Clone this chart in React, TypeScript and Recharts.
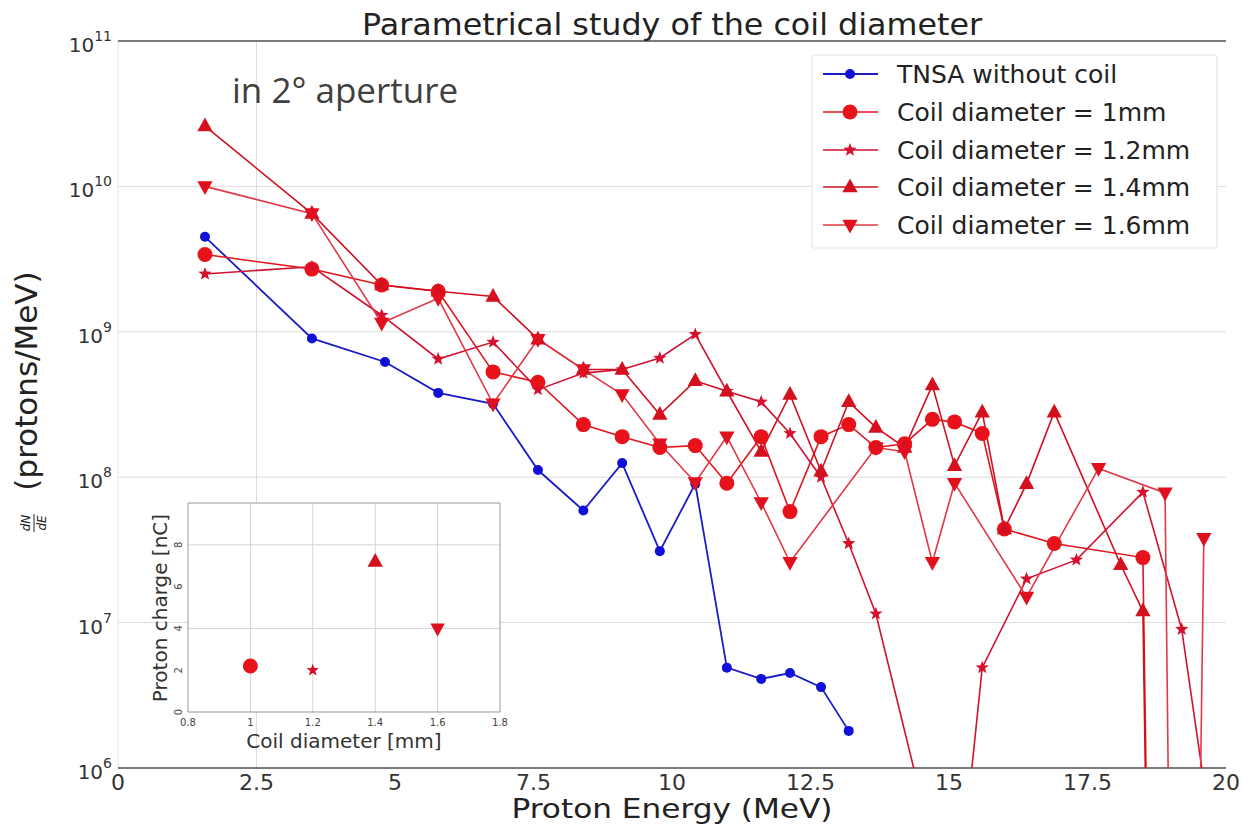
import React from "react";
import {
  LineChart,
  Line,
  XAxis,
  YAxis,
  CartesianGrid,
  ReferenceLine,
  ScatterChart,
  Scatter,
} from "recharts";

// Proton spectra: energy (MeV) vs dN/dE (protons/MeV), 2° aperture
const tnsaEnergy = [1.57, 3.5, 4.82, 5.78, 6.77, 7.58, 8.4, 9.1, 9.78, 10.42, 10.99, 11.61, 12.13, 12.69, 13.19];
const tnsaCounts = [4.5e9, 9.0e8, 6.2e8, 3.8e8, 3.2e8, 1.12e8, 5.9e7, 1.25e8, 3.1e7, 9.0e7, 4.9e6, 4.1e6, 4.5e6, 3.6e6, 1.8e6];

const coil10Energy = [1.57, 3.5, 4.76, 5.78, 6.77, 7.58, 8.4, 9.1, 9.78, 10.42, 10.99, 11.61, 12.13, 12.69, 13.19, 13.68, 14.2, 14.7, 15.1, 15.6, 16.0, 16.9, 18.5, 18.9];
const coil10Counts = [3.4e9, 2.7e9, 2.1e9, 1.9e9, 5.3e8, 4.5e8, 2.3e8, 1.9e8, 1.6e8, 1.65e8, 9.1e7, 1.9e8, 5.8e7, 1.9e8, 2.3e8, 1.6e8, 1.7e8, 2.5e8, 2.4e8, 2.0e8, 4.4e7, 3.5e7, 2.8e7, 1e-3];

const coil12Energy = [1.57, 3.5, 4.76, 5.78, 6.77, 7.58, 8.4, 9.1, 9.78, 10.42, 10.99, 11.61, 12.13, 12.69, 13.19, 13.68, 14.7, 15.1, 15.6, 16.4, 17.3, 18.5, 19.2, 19.6];
const coil12Counts = [2.5e9, 2.8e9, 1.3e9, 6.5e8, 8.5e8, 4.0e8, 5.2e8, 5.5e8, 6.6e8, 9.6e8, 3.9e8, 3.3e8, 2.0e8, 1.0e8, 3.5e7, 1.15e7, 3e5, 7e4, 4.9e6, 2.0e7, 2.7e7, 7.9e7, 9e6, 8e5];

const coil14Energy = [1.57, 3.5, 4.76, 5.78, 6.77, 7.58, 8.4, 9.1, 9.78, 10.42, 10.99, 11.61, 12.13, 12.69, 13.19, 13.68, 14.2, 14.7, 15.1, 15.6, 16.0, 16.4, 16.9, 18.1, 18.5, 18.9];
const coil14Counts = [2.6e10, 6.5e9, 2.1e9, 1.9e9, 1.75e9, 8.9e8, 5.5e8, 5.5e8, 2.7e8, 4.6e8, 3.9e8, 1.5e8, 3.7e8, 1.1e8, 3.3e8, 2.2e8, 1.6e8, 4.3e8, 1.2e8, 2.8e8, 4.4e7, 9e7, 2.8e8, 2.5e7, 1.2e7, 1e-3];

const coil16Energy = [1.57, 3.5, 4.76, 5.78, 6.77, 7.58, 8.4, 9.1, 9.78, 10.42, 10.99, 11.61, 12.13, 13.68, 14.2, 14.7, 15.1, 16.4, 17.7, 18.9, 19.22, 19.6];
const coil16Counts = [1.0e10, 6.5e9, 1.15e9, 1.7e9, 3.2e8, 8.9e8, 5.5e8, 3.7e8, 1.7e8, 9.2e7, 1.9e8, 6.7e7, 2.6e7, 1.6e8, 1.5e8, 2.6e7, 9.1e7, 1.5e7, 1.15e8, 7.8e7, 1e-3, 3.8e7];

const energyTicks = [0, 2.5, 5, 7.5, 10, 12.5, 15, 17.5, 20];
const countTicks = [1e6, 1e7, 1e8, 1e9, 1e10, 1e11];

// inset: total proton charge per coil diameter
const insetDiameter = [1, 1.2, 1.4, 1.6];
const insetCharge = [2.2, 2.0, 7.2, 4.0];
const insetDiameterTicks = [0.8, 1, 1.2, 1.4, 1.6, 1.8];
const insetChargeTicks = [0, 2, 4, 6, 8];

type Shape = "circle" | "star" | "up" | "down";

const series: {
  name: string;
  energy: number[];
  counts: number[];
  stroke: string;
  fill: string;
  shape: Shape;
  size: number;
  width: number;
}[] = [
  { name: "TNSA without coil", energy: tnsaEnergy, counts: tnsaCounts, stroke: "#1c1cc4", fill: "#1010d8", shape: "circle", size: 5, width: 1.8 },
  { name: "Coil diameter = 1mm", energy: coil10Energy, counts: coil10Counts, stroke: "#e0141c", fill: "#e8121a", shape: "circle", size: 7.5, width: 1.6 },
  { name: "Coil diameter = 1.2mm", energy: coil12Energy, counts: coil12Counts, stroke: "#d01232", fill: "#d6102c", shape: "star", size: 7, width: 1.6 },
  { name: "Coil diameter = 1.4mm", energy: coil14Energy, counts: coil14Counts, stroke: "#cf1020", fill: "#d4101e", shape: "up", size: 8.5, width: 1.6 },
  { name: "Coil diameter = 1.6mm", energy: coil16Energy, counts: coil16Counts, stroke: "#e03844", fill: "#e0101e", shape: "down", size: 8.5, width: 1.6 },
];

const insetShapes: Shape[] = ["circle", "star", "up", "down"];
const insetSizes = [7.5, 6.5, 8.5, 8];

const FONT = "DejaVu Sans, sans-serif";

function Marker({ cx, cy, shape, size, fill }: { cx: number; cy: number; shape: Shape; size: number; fill: string }) {
  const r = size;
  if (shape === "circle") return <circle cx={cx} cy={cy} r={r} fill={fill} />;
  if (shape === "up")
    return <polygon points={`${cx},${cy - r} ${cx + r * 0.9},${cy + r * 0.62} ${cx - r * 0.9},${cy + r * 0.62}`} fill={fill} />;
  if (shape === "down")
    return <polygon points={`${cx},${cy + r} ${cx + r * 0.9},${cy - r * 0.62} ${cx - r * 0.9},${cy - r * 0.62}`} fill={fill} />;
  const pts: string[] = [];
  for (let i = 0; i < 10; i++) {
    const a = -Math.PI / 2 + (i * Math.PI) / 5;
    const rr = i % 2 === 0 ? r : r * 0.42;
    pts.push(`${cx + rr * Math.cos(a)},${cy + rr * Math.sin(a)}`);
  }
  return <polygon points={pts.join(" ")} fill={fill} />;
}

const dotRenderer = (name: string, shape: Shape, size: number, fill: string) => (props: any) => {
  const { cx, cy, index, payload } = props;
  const k = `${name}-${index}`;
  if (cx == null || cy == null || payload.v < 1e6) return <g key={k} />;
  return <Marker key={k} cx={cx} cy={cy} shape={shape} size={size} fill={fill} />;
};

const PowerTick = (props: any) => {
  const { x, y, payload } = props;
  const exp = Math.round(Math.log10(payload.value));
  return (
    <text x={x - 6} y={y + 11} textAnchor="end" fill="#333" fontFamily={FONT}>
      <tspan fontSize={20}>10</tspan>
      <tspan fontSize={14} dy={-11}>
        {exp}
      </tspan>
    </text>
  );
};

const EnergyTick = (props: any) => {
  const { x, y, payload } = props;
  return (
    <text x={x} y={y + 22} textAnchor="middle" fontSize={22} fill="#333" fontFamily={FONT}>
      {payload.value}
    </text>
  );
};

const InsetXTick = (props: any) => {
  const { x, y, payload } = props;
  return (
    <text x={x} y={y + 14} textAnchor="middle" fontSize={10} fill="#444" fontFamily={FONT}>
      {payload.value}
    </text>
  );
};

const InsetYTick = (props: any) => {
  const { x, y, payload } = props;
  return (
    <text x={x - 6} y={y} textAnchor="middle" fontSize={10} fill="#444" fontFamily={FONT} transform={`rotate(-90, ${x - 6}, ${y})`}>
      {payload.value}
    </text>
  );
};

function Labels() {
  return (
    <svg width={1243} height={831} style={{ position: "absolute", left: 0, top: 0, pointerEvents: "none" }}>
      <text x={672} y={35} textAnchor="middle" fontSize={30} fill="#222" fontFamily={FONT} textLength={620} lengthAdjust="spacingAndGlyphs">
        Parametrical study of the coil diameter
      </text>
      <text x={232} y={103} fontSize={35} fill="#404040" fontFamily="Open Sans, sans-serif">
        in 2° aperture
      </text>
      <text x={672} y={818} textAnchor="middle" fontSize={27} fill="#222" fontFamily={FONT} textLength={321} lengthAdjust="spacingAndGlyphs">
        Proton Energy (MeV)
      </text>
      <text x={37} y={381} textAnchor="middle" fontSize={31} fill="#222" fontFamily={FONT} transform="rotate(-90, 37, 381)">
        (protons/MeV)
      </text>
      <g transform="translate(34, 523) rotate(-90)" fontFamily={FONT} fill="#222" fontStyle="italic">
        <text x={0} y={-4} textAnchor="middle" fontSize={12}>
          dN
        </text>
        <line x1={-9} x2={9} y1={0} y2={0} stroke="#222" strokeWidth={1} />
        <text x={0} y={12} textAnchor="middle" fontSize={12}>
          dE
        </text>
      </g>
      <text x={344} y={748} textAnchor="middle" fontSize={20} fill="#333" fontFamily={FONT}>
        Coil diameter [mm]
      </text>
      <text x={167} y={608} textAnchor="middle" fontSize={20} fill="#333" fontFamily={FONT} transform="rotate(-90, 167, 608)">
        Proton charge [nC]
      </text>
    </svg>
  );
}

function LegendBox() {
  const rowY = [20, 58, 96, 133, 171];
  return (
    <svg width={408} height={196} style={{ position: "absolute", left: 811, top: 54 }}>
      <rect x={1} y={1} width={405} height={193} fill="#fff" stroke="#ececec" strokeWidth={1.5} rx={3} />
      {series.map((s, i) => (
        <g key={s.name}>
          <line x1={12} x2={67} y1={rowY[i]} y2={rowY[i]} stroke={s.stroke} strokeWidth={s.width} />
          <Marker cx={39} cy={rowY[i]} shape={s.shape} size={s.size} fill={s.fill} />
          <text x={86} y={rowY[i] + 9} fontSize={25} fill="#222" fontFamily={FONT}>
            {s.name}
          </text>
        </g>
      ))}
    </svg>
  );
}

export default function App() {
  return (
    <div style={{ position: "absolute", left: 0, top: 0, width: 1243, height: 831, background: "#fff" }}>
      <LineChart width={1243} height={831} margin={{ top: 41, right: 17, bottom: 0, left: 0 }}>
        <CartesianGrid vertical={false} stroke="#dcdcdc" />
        <XAxis
          dataKey="e"
          type="number"
          domain={[0, 20]}
          ticks={energyTicks}
          allowDataOverflow
          height={63}
          axisLine={false}
          tickLine={false}
          tickSize={0}
          tickMargin={0}
          tick={EnergyTick}
        />
        <YAxis
          type="number"
          scale="log"
          domain={[1e6, 1e11]}
          ticks={countTicks}
          allowDataOverflow
          width={118}
          axisLine={false}
          tickLine={false}
          tickSize={0}
          tickMargin={0}
          tick={PowerTick}
        />
        <ReferenceLine x={2.5} stroke="#dcdcdc" />
        <ReferenceLine x={0} stroke="#e4e4e4" />
        <ReferenceLine y={1e11} stroke="#555" strokeWidth={1.5} />
        <ReferenceLine y={1e6} stroke="#555" strokeWidth={1.5} />
        {series.map((s) => (
          <Line
            key={s.name}
            name={s.name}
            data={s.energy.map((e, i) => ({ e, v: s.counts[i] }))}
            dataKey="v"
            type="linear"
            stroke={s.stroke}
            strokeWidth={s.width}
            dot={dotRenderer(s.name, s.shape, s.size, s.fill)}
            activeDot={false}
            isAnimationActive={false}
          />
        ))}
      </LineChart>
      <Labels />
      <div style={{ position: "absolute", left: 130, top: 495 }}>
        <ScatterChart width={390} height={270} margin={{ top: 8, right: 20, bottom: 0, left: 0 }}>
          <CartesianGrid horizontal={false} vertical={false} fill="#fff" />
          <XAxis
            dataKey="d"
            type="number"
            domain={[0.8, 1.8]}
            ticks={insetDiameterTicks}
            height={53}
            axisLine={false}
            tickLine={false}
            tickSize={0}
            tickMargin={0}
            tick={InsetXTick}
          />
          <YAxis
            dataKey="q"
            type="number"
            domain={[0, 10]}
            ticks={insetChargeTicks}
            width={58}
            axisLine={false}
            tickLine={false}
            tickSize={0}
            tickMargin={0}
            tick={InsetYTick}
          />
          {[1, 1.2, 1.4, 1.6].map((v) => (
            <ReferenceLine key={`vx${v}`} x={v} stroke="#d6d6d6" />
          ))}
          {[4, 8].map((v) => (
            <ReferenceLine key={`hy${v}`} y={v} stroke="#d6d6d6" />
          ))}
          <ReferenceLine x={0.8} stroke="#999" />
          <ReferenceLine x={1.8} stroke="#999" />
          <ReferenceLine y={0} stroke="#999" />
          <ReferenceLine y={10} stroke="#999" />
          {insetDiameter.map((d, i) => (
            <Scatter
              key={`inset-${d}`}
              data={[{ d, q: insetCharge[i] }]}
              fill={series[i + 1].fill}
              isAnimationActive={false}
              shape={(p: any) => <Marker cx={p.cx} cy={p.cy} shape={insetShapes[i]} size={insetSizes[i]} fill={series[i + 1].fill} />}
            />
          ))}
        </ScatterChart>
      </div>
      <LegendBox />
    </div>
  );
}
